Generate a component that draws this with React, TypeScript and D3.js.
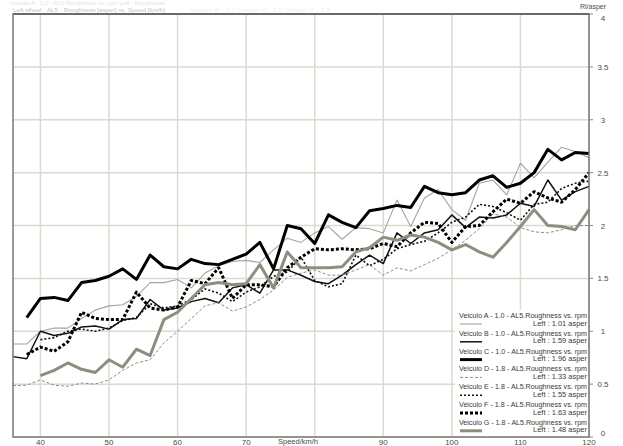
import React from "react";
import * as d3 from "d3";

// Speed steps (km/h)
const speeds = [36, 38, 40, 42, 44, 46, 48, 50, 52, 54, 56, 58, 60, 62, 64, 66, 68, 70, 72, 74, 76, 78, 80, 82, 84, 86, 88, 90, 92, 94, 96, 98, 100, 102, 104, 106, 108, 110, 112, 114, 116, 118, 120];

// Roughness (asper) per vehicle, aligned with speeds; null = no reading
const vehA = [0.88, 0.88, 1.00, 1.03, 1.03, 1.12, 1.20, 1.24, 1.25, 1.33, 1.46, 1.46, 1.49, 1.41, 1.55, 1.62, 1.66, 1.67, 1.65, 1.77, 1.88, 1.84, 1.93, 1.99, 1.87, 1.98, 1.97, 1.93, 2.24, 1.99, 2.26, 2.34, 2.15, 2.05, 2.40, 2.43, 2.29, 2.59, 2.45, 2.60, 2.74, 2.70, 2.64];
const vehB = [0.76, 0.74, 1.00, 0.96, 0.98, 1.04, 1.05, 1.02, 1.11, 1.12, 1.30, 1.20, 1.22, 1.28, 1.31, 1.27, 1.41, 1.44, 1.36, 1.58, 1.58, 1.53, 1.47, 1.45, 1.53, 1.63, 1.72, 1.64, 1.93, 1.83, 1.93, 1.96, 2.10, 1.98, 2.08, 2.07, 2.10, 2.21, 2.18, 2.43, 2.24, 2.32, 2.37];
const vehC = [null, 1.13, 1.31, 1.32, 1.29, 1.46, 1.48, 1.52, 1.59, 1.49, 1.72, 1.61, 1.59, 1.68, 1.64, 1.63, 1.68, 1.73, 1.84, 1.59, 2.00, 1.97, 1.83, 2.10, 2.03, 1.98, 2.14, 2.16, 2.19, 2.17, 2.37, 2.31, 2.29, 2.31, 2.43, 2.47, 2.36, 2.40, 2.50, 2.72, 2.62, 2.69, 2.68];
const vehD = [0.485, 0.49, 0.54, 0.49, 0.48, 0.51, 0.50, 0.54, 0.63, 0.70, 0.73, 0.89, 1.00, 1.12, 1.24, 1.27, 1.19, 1.23, 1.30, 1.39, 1.51, 1.55, 1.58, 1.53, 1.53, 1.58, 1.63, 1.53, 1.60, 1.57, 1.63, 1.69, 1.77, 1.86, 1.97, 2.11, 2.08, 1.98, 1.94, 1.93, 1.96, 2.00, 2.00];
const vehE = [null, null, 0.92, 0.94, 1.00, 1.02, 1.00, 1.03, 1.10, 1.13, 1.26, 1.22, 1.24, 1.30, 1.40, 1.36, 1.28, 1.37, 1.42, 1.52, 1.56, 1.70, 1.48, 1.42, 1.45, 1.72, 1.62, 1.68, 1.78, 1.82, 1.85, 1.93, 2.03, 2.08, 2.20, 2.18, 2.12, 2.05, 2.20, 2.22, 2.35, 2.40, 2.42];
const vehF = [null, 0.78, 0.85, 0.81, 0.90, 1.18, 1.12, 1.11, 1.11, 1.37, 1.22, 1.20, 1.23, 1.48, 1.45, 1.60, 1.31, 1.44, 1.44, 1.42, 1.60, 1.70, 1.78, 1.77, 1.78, 1.77, 1.78, 1.83, 1.80, 1.93, 2.03, 2.02, 1.84, 1.99, 2.00, 2.13, 2.25, 2.21, 2.32, 2.26, 2.22, 2.34, 2.50];
const vehG = [null, null, 0.58, 0.63, 0.70, 0.64, 0.61, 0.73, 0.66, 0.83, 0.77, 1.11, 1.18, 1.31, 1.44, 1.46, 1.44, 1.45, 1.63, 1.41, 1.75, 1.60, 1.60, 1.60, 1.61, 1.75, 1.79, 1.89, 1.86, 1.91, 1.89, 1.84, 1.77, 1.82, 1.75, 1.70, 1.84, 1.99, 2.15, 2.00, 1.99, 1.96, 2.15];

const seriesNames = ["Veiculo A - 1.0 - AL5.Roughness vs. rpm", "Veiculo B - 1.0 - AL5.Roughness vs. rpm", "Veiculo C - 1.0 - AL5.Roughness vs. rpm", "Veiculo D - 1.8 - AL5.Roughness vs. rpm", "Veiculo E - 1.8 - AL5.Roughness vs. rpm", "Veiculo F - 1.8 - AL5.Roughness vs. rpm", "Veiculo G - 1.8 - AL5.Roughness vs. rpm"];
const seriesLeft = ["Left  : 1.01 asper", "Left  : 1.59 asper", "Left  : 1.96 asper", "Left  : 1.33 asper", "Left  : 1.55 asper", "Left  : 1.63 asper", "Left  : 1.48 asper"];

const xTicks = [40, 50, 60, 70, 80, 90, 100, 110, 120];
const xTickLabels = ["40", "50", "60", "70", "", "90", "100", "110", "120"];
const yTicks = [0, 0.5, 1, 1.5, 2, 2.5, 3, 3.5, 4];
const yTickLabels = ["0", "0.5", "1", "1.5", "2", "2.5", "3", "3.5", "4"];
const xTitle = "Speed/km/h";
const yTitle = "Rl/asper";

const styles = [
  { color: "#a4a4a4", width: 1.1, dash: "" },
  { color: "#111", width: 1.5, dash: "" },
  { color: "#000", width: 3, dash: "" },
  { color: "#8c8c8c", width: 1, dash: "3,2" },
  { color: "#111", width: 1.6, dash: "2,2" },
  { color: "#000", width: 3, dash: "3,2" },
  { color: "#8e8e80", width: 3, dash: "" },
];

const FONT = "Liberation Sans, Arial, sans-serif";

export default function App() {
  const W = 623, H = 446;
  const left = 13, right = 589, top = 14, bottom = 437;
  const x = d3.scaleLinear().domain([36, 120]).range([left, right]);
  const y = d3.scaleLinear().domain([0, 4]).range([bottom, top]);
  const all = [vehA, vehB, vehC, vehD, vehE, vehF, vehG];
  const line = d3
    .line<[number, number | null]>()
    .defined((d) => d[1] !== null)
    .x((d) => x(d[0]))
    .y((d) => y(d[1] as number));

  const legX = 455, legY = 310, rowH = 17.8;

  return (
    <svg width={W} height={H} style={{ position: "fixed", left: 0, top: 0, background: "#fff" }}>
      <rect x={0} y={0} width={W} height={H} fill="#fff" />
      {/* faint header */}
      <g opacity={0.999}>
        <text x={10} y={4.5} fontFamily={FONT} fontSize={5.5} fill="#dde3f3" textLength={155} lengthAdjust="spacingAndGlyphs">
          Veiculo A - 1.0 - AL5.Roughness vs. rpm  Left : Roughness
        </text>
        <text x={13} y={11.5} fontFamily={FONT} fontSize={5.5} fill="#c4c4c4" textLength={152} lengthAdjust="spacingAndGlyphs">
          Left wheel - AL5 - Roughness [asper] vs. Speed [km/h]
        </text>
        <text x={190} y={11.5} fontFamily={FONT} fontSize={5.5} fill="#eceff5" textLength={140} lengthAdjust="spacingAndGlyphs">
          Veiculo B - 1.0     Veiculo C - 1.0     Veiculo D - 1.8
        </text>
      </g>

      {/* grid */}
      {xTicks.map((t) => (
        <line key={"gx" + t} x1={x(t)} x2={x(t)} y1={top} y2={bottom} stroke="#dadad0" strokeWidth={1.5} />
      ))}
      {yTicks.map((t) => (
        <line key={"gy" + t} x1={left} x2={right} y1={y(t)} y2={y(t)} stroke="#dadad0" strokeWidth={1.5} />
      ))}

      {/* series */}
      {all.map((vals, i) => (
        <path
          key={"s" + i}
          d={line(speeds.map((s, k) => [s, vals[k]]) as [number, number | null][]) || ""}
          fill="none"
          stroke={styles[i].color}
          strokeWidth={styles[i].width}
          strokeDasharray={styles[i].dash}
          strokeLinejoin="round"
        />
      ))}

      {/* legend */}
      <rect x={legX} y={legY} width={right - legX - 1} height={bottom - legY - 1} fill="#fff" />
      <g opacity={0.999}>
        {seriesNames.map((n, i) => {
          const ty = legY + 8 + i * rowH;
          return (
            <g key={"lg" + i}>
              <text x={587} y={ty} textAnchor="end" fontFamily={FONT} fontSize={6.6} fill="#3a3a3a" textLength={128} lengthAdjust="spacingAndGlyphs">
                {n}
              </text>
              <line x1={460} x2={482} y1={ty + 6} y2={ty + 6} stroke={styles[i].color} strokeWidth={styles[i].width} strokeDasharray={styles[i].dash} />
              <text x={587} y={ty + 7.5} textAnchor="end" fontFamily={FONT} fontSize={6.6} fill="#3a3a3a" textLength={54} lengthAdjust="spacingAndGlyphs">
                {seriesLeft[i]}
              </text>
            </g>
          );
        })}
      </g>

      {/* frame */}
      <rect x={left} y={top} width={right - left} height={bottom - top} fill="none" stroke="#7a7a7a" strokeWidth={1.5} />
      <line x1={left} x2={right} y1={top} y2={top} stroke="#6a6a6a" strokeWidth={2} />

      {/* right axis */}
      <g opacity={0.999}>
        {yTicks.map((t, i) => (
          <g key={"yt" + t}>
            <line x1={right} x2={right + 4} y1={y(t)} y2={y(t)} stroke="#888" strokeWidth={1} />
            <text
              x={603}
              y={t === 4 ? y(t) + 7 : t === 0 ? y(t) - 1 : y(t) + 3}
              textAnchor="middle"
              fontFamily={FONT}
              fontSize={8}
              fill="#4a4a4a"
            >
              {yTickLabels[i]}
            </text>
          </g>
        ))}
        <text x={593} y={9} textAnchor="middle" fontFamily={FONT} fontSize={7} fill="#4a4a4a">
          {yTitle}
        </text>

        {/* bottom axis */}
        {xTicks.map((t, i) => (
          <text key={"xt" + t} x={x(t)} y={445} textAnchor="middle" fontFamily={FONT} fontSize={8} fill="#4a4a4a">
            {xTickLabels[i]}
          </text>
        ))}
        <text x={298} y={444} textAnchor="middle" fontFamily={FONT} fontSize={7.5} fill="#4a4a4a">
          {xTitle}
        </text>
      </g>
    </svg>
  );
}
